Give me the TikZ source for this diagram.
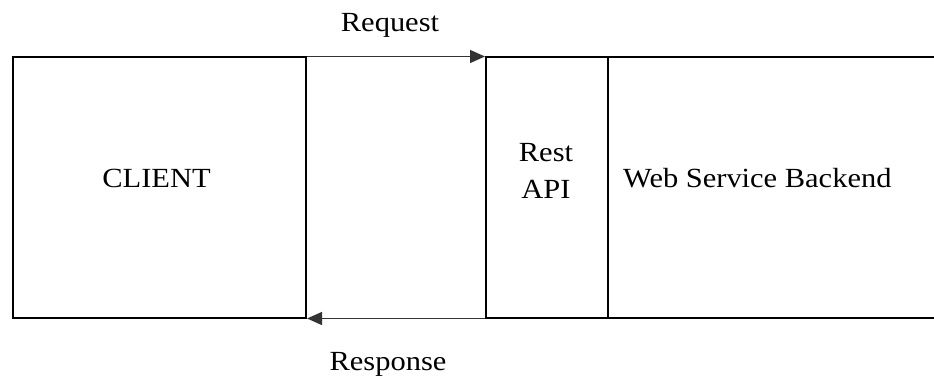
\documentclass[tikz,border=0pt]{standalone}
\usepackage{fontspec}
\setmainfont[FakeStretch=1.1]{Liberation Serif}
\usetikzlibrary{arrows.meta}
\tikzset{
  box/.style={draw=black, line width=2pt, minimum height=260pt, inner sep=0pt},
  lbl/.style={font=\fontsize{27.7}{37}\selectfont, align=center, inner sep=0pt},
  msg/.style={draw=black!80, line width=1.3pt, -{Triangle[length=15pt,width=13pt]}}
}
\begin{document}
\begin{tikzpicture}[x=1pt,y=1pt]
  \useasboundingbox (0,0) rectangle (934,381);
  % the three boxes
  \node[box, minimum width=293.5pt, anchor=south west] (client) at (11.5,62.5) {};
  \node[box, minimum width=122pt, anchor=south west] (api) at (485,62.5) {};
  \node[box, minimum width=350pt, anchor=south west] (backend) at (607,62.5) {};
  % box texts
  \node[lbl, anchor=base] (clienttxt) at (156.5,194) {CLIENT};
  \node[lbl, anchor=base] (apitxt) at (546,220) {Rest};
  \node[lbl, anchor=base] (apitxt2) at (546,183) {API};
  \node[lbl, anchor=base west] (backendtxt) at (623,194) {Web Service Backend};
  % request / response
  \draw[msg] (client.north east) -- (api.north west);
  \draw[msg] (api.south west) -- (client.south east);
  \node[lbl, anchor=base] (req) at (390,349.5) {Request};
  \node[lbl, anchor=base] (resp) at (388,11) {Response};
\end{tikzpicture}
\end{document}
